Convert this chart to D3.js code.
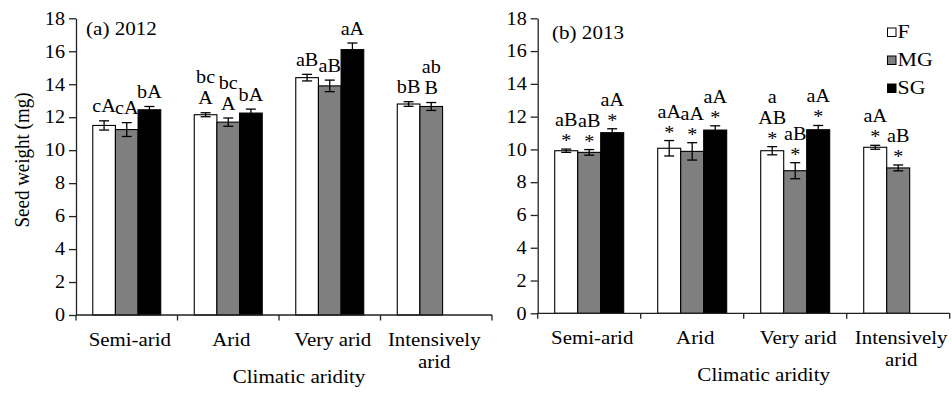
<!DOCTYPE html>
<html><head><meta charset="utf-8">
<script src="https://cdn.jsdelivr.net/npm/d3@7"></script>
<style>
html,body{margin:0;padding:0;background:#fff;}
text{font-family:"Liberation Serif","Times New Roman",serif;fill:#000;}
</style></head>
<body><svg id="c" width="952" height="393"></svg>
<script>
// ---- data ----
const categories = ["Semi-arid", "Arid", "Very arid", "Intensively\narid"];
const seriesNames = ["F", "MG", "SG"];
const yTicks = [0, 2, 4, 6, 8, 10, 12, 14, 16, 18];

const f2012 = [11.5, 12.15, 14.4, 12.8];
const mg2012 = [11.25, 11.7, 13.9, 12.65];
const sg2012 = [12.45, 12.25, 16.1, null];
const fErr2012 = [0.28, 0.12, 0.2, 0.14];
const mgErr2012 = [0.42, 0.25, 0.35, 0.24];
const sgErr2012 = [0.2, 0.24, 0.4, null];
const fLab2012 = ["cA", "bc\nA", "aB", "bB"];
const mgLab2012 = ["cA", "bc\nA", "aB", "ab\nB"];
const sgLab2012 = ["bA", "bA", "aA", null];

const f2013 = [9.92, 10.07, 9.92, 10.13];
const mg2013 = [9.82, 9.88, 8.7, 8.87];
const sg2013 = [11.02, 11.18, 11.2, null];
const fErr2013 = [0.1, 0.47, 0.25, 0.12];
const mgErr2013 = [0.17, 0.53, 0.49, 0.18];
const sgErr2013 = [0.24, 0.26, 0.26, null];
const fLab2013 = ["aB\n*", "aA\n*", "a\nAB\n*", "aA\n*"];
const mgLab2013 = ["aB\n*", "aA\n*", "aB\n*", "aB\n*"];
const sgLab2013 = ["aA\n*", "aA\n*", "aA\n*", null];

const panelTitles = ["(a) 2012", "(b) 2013"];
const xTitle = "Climatic aridity";
const yTitle = "Seed weight (mg)";

// ---- drawing ----
const svg = d3.select("#c");
const SX = 1.12;
const fills = {F: "#ffffff", MG: "#7f7f7f", SG: "#000000"};

function addText(g, x, y, s, size, anchor, sx) {
  return g.append("text")
    .attr("transform", `translate(${x},${y}) scale(${sx || SX},1)`)
    .attr("text-anchor", anchor || "middle")
    .style("font-size", size + "px")
    .text(s);
}

const panels = [
  {title: panelTitles[0], vals: [f2012, mg2012, sg2012], errs: [fErr2012, mgErr2012, sgErr2012],
   labs: [fLab2012, mgLab2012, sgLab2012], yr: [315, 18.3], xr: [76, 482], axisEnd: 492,
   titlePos: [86, 35], showY: true, legend: false},
  {title: panelTitles[1], vals: [f2013, mg2013, sg2013], errs: [fErr2013, mgErr2013, sgErr2013],
   labs: [fLab2013, mgLab2013, sgLab2013], yr: [313.3, 18.3], xr: [537.7, 949.7], axisEnd: 949.7,
   titlePos: [552, 39], showY: false, legend: true}
];

panels.forEach(p => {
  const g = svg.append("g");
  const y = d3.scaleLinear().domain([0, 18]).range(p.yr);
  const x = d3.scaleBand().domain(categories).range(p.xr).paddingInner(0).paddingOuter(0);
  const xs = d3.scaleBand().domain(seriesNames).range([0, x.bandwidth()]).paddingInner(0).paddingOuter(0.74);

  // bars
  seriesNames.forEach((s, si) => {
    categories.forEach((c, ci) => {
      const v = p.vals[si][ci];
      if (v == null) return;
      const e = p.errs[si][ci];
      const bx = x(c) + xs(s);
      const bw = xs.bandwidth();
      g.append("rect").attr("x", bx).attr("y", y(v)).attr("width", bw).attr("height", y(0) - y(v))
        .attr("fill", fills[s]).attr("stroke", "#000").attr("stroke-width", 1.1);
      const cx = bx + bw / 2;
      g.append("line").attr("x1", cx).attr("x2", cx).attr("y1", y(v - e)).attr("y2", y(v + e))
        .attr("stroke", "#000").attr("stroke-width", 1.3);
      [v - e, v + e].forEach(t => {
        g.append("line").attr("x1", cx - 5).attr("x2", cx + 5).attr("y1", y(t)).attr("y2", y(t))
          .attr("stroke", "#000").attr("stroke-width", 1.3);
      });
      // significance labels
      const lab = p.labs[si][ci];
      if (lab) {
        const lines = lab.split("\n");
        const top = y(v + e);
        const last = lines[lines.length - 1];
        let base = top - (last === "*" ? 2 : 8.5);
        for (let k = lines.length - 1; k >= 0; k--) {
          addText(g, cx, base, lines[k], 18, "middle");
          base -= 21;
        }
      }
    });
  });

  // y axis
  const ya = g.append("g").attr("transform", `translate(${p.xr[0]},0)`)
    .call(d3.axisLeft(y).tickValues(yTicks).tickSize(7).tickSizeOuter(0).tickPadding(4));
  ya.select(".domain").attr("stroke", "#222").attr("stroke-width", 1.3);
  ya.selectAll(".tick line").attr("stroke", "#222").attr("stroke-width", 1.3);
  ya.selectAll(".tick text").each(function () {
    const t = d3.select(this);
    const xx = +t.attr("x");
    t.attr("x", xx / SX).attr("transform", `scale(${SX},1)`)
      .style("font-size", "18px").attr("font-family", null);
  });
  ya.attr("font-family", null).attr("font-size", null);

  // x axis
  const y0 = y(0);
  g.append("line").attr("x1", p.xr[0]).attr("x2", p.axisEnd).attr("y1", y0).attr("y2", y0)
    .attr("stroke", "#222").attr("stroke-width", 1.3);
  const tickXs = categories.map(c => x(c)).concat([p.axisEnd]);
  tickXs.forEach(tx => {
    g.append("line").attr("x1", tx).attr("x2", tx).attr("y1", y0).attr("y2", y0 + 5.5)
      .attr("stroke", "#222").attr("stroke-width", 1.3);
  });
  categories.forEach(c => {
    const lines = c.split("\n");
    lines.forEach((ln, k) => {
      addText(g, x(c) + x.bandwidth() / 2 + 3, y0 + 30.5 + k * 22, ln, 19.5, "middle", 1.07);
    });
  });
  addText(g, (p.xr[0] + p.xr[1]) / 2 + 20, y0 + 68, xTitle, 19.5, "middle", 1.08);

  // panel title
  addText(g, p.titlePos[0], p.titlePos[1], p.title, 18.5, "start", 1.14);

  if (p.showY) {
    g.append("text").attr("transform", `translate(29,160) rotate(-90) scale(1,1.1)`)
      .attr("text-anchor", "middle").style("font-size", "19px").text(yTitle);
  }

  if (p.legend) {
    const lg = g.append("g");
    seriesNames.forEach((s, i) => {
      const by = 37.5 + i * 28;
      lg.append("rect").attr("x", 887.5).attr("y", by - 9.5).attr("width", 8.5).attr("height", 8.5)
        .attr("fill", fills[s]).attr("stroke", "#000").attr("stroke-width", 1);
      addText(lg, 897.5, by, s, 19, "start", 1.15);
    });
  }
});
</script></body></html>
